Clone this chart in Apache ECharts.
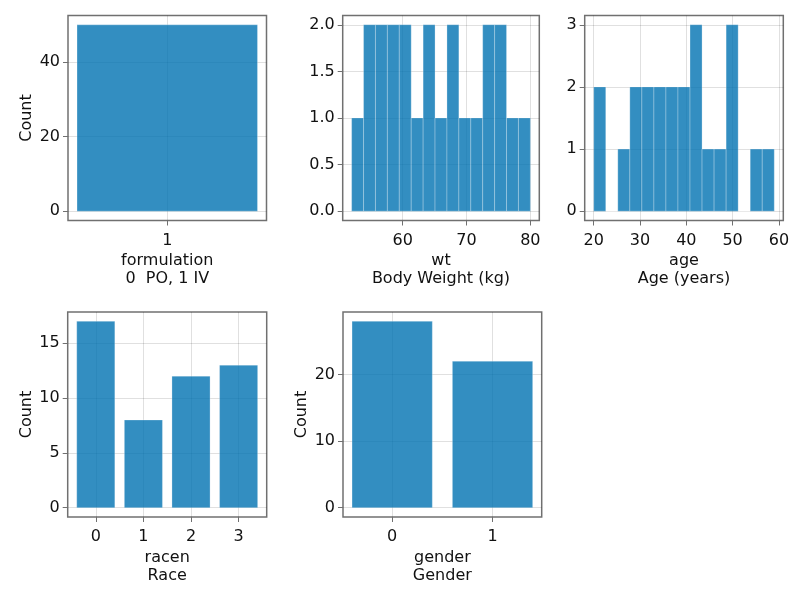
<!DOCTYPE html>
<html>
<head>
<meta charset="utf-8">
<script src="https://cdn.jsdelivr.net/npm/echarts@6.0.0/dist/echarts.min.js"></script>
<style>
html,body{margin:0;padding:0;background:#fff;}
#chart{width:800px;height:600px;}
</style>
</head>
<body>
<div id="chart"></div>
<script>
// ---------- data ----------
// formulation (categorical)
const formulationCats = [1];
const formulationCounts = [50];
// wt histogram: 15 bins from 52 to 80
const wtBinRange = [52, 80];
const wtCounts = [1, 2, 2, 2, 2, 1, 2, 1, 2, 1, 1, 2, 2, 1, 1];
// age histogram: 15 bins from 20 to 59
const ageBinRange = [20, 59];
const ageCounts = [2, 0, 1, 2, 2, 2, 2, 2, 3, 1, 1, 3, 0, 1, 1];
// racen (categorical)
const raceCats = [0, 1, 2, 3];
const raceCounts = [17, 8, 12, 13];
// gender (categorical)
const genderCats = [0, 1];
const genderCounts = [28, 22];

// tick values
const formulationXTicks = [1];
const formulationYTicks = [0, 20, 40];
const wtXTicks = [60, 70, 80];
const wtYTicks = [0, 0.5, 1, 1.5, 2];
const ageXTicks = [20, 30, 40, 50, 60];
const ageYTicks = [0, 1, 2, 3];
const raceXTicks = [0, 1, 2, 3];
const raceYTicks = [0, 5, 10, 15];
const genderXTicks = [0, 1];
const genderYTicks = [0, 10, 20];

// labels
const xNames = ['formulation\n0  PO, 1 IV', 'wt\nBody Weight (kg)', 'age\nAge (years)', 'racen\nRace', 'gender\nGender'];
const yName = 'Count';

// ---------- build ----------
const BAR_W = 0.8;
function catRects(cats, counts) {
  return cats.map((c, i) => [c - BAR_W / 2, c + BAR_W / 2, counts[i]]);
}
function histRects(range, counts) {
  const n = counts.length;
  const w = (range[1] - range[0]) / n;
  return counts.map((v, i) => [range[0] + i * w, range[0] + (i + 1) * w, v]);
}
const panels = [
  { rects: catRects(formulationCats, formulationCounts), xt: formulationXTicks, yt: formulationYTicks, yfmt: v => String(v), ylab: true },
  { rects: histRects(wtBinRange, wtCounts), xt: wtXTicks, yt: wtYTicks, yfmt: v => Number(v).toFixed(1), ylab: false },
  { rects: histRects(ageBinRange, ageCounts), xt: ageXTicks, yt: ageYTicks, yfmt: v => String(v), ylab: false },
  { rects: catRects(raceCats, raceCounts), xt: raceXTicks, yt: raceYTicks, yfmt: v => String(v), ylab: true },
  { rects: catRects(genderCats, genderCounts), xt: genderXTicks, yt: genderYTicks, yfmt: v => String(v), ylab: true }
];
const gridPos = [
  { left: 68, top: 15.5, width: 198.5, height: 205 },
  { left: 342.7, top: 15.5, width: 196.6, height: 205 },
  { left: 584.7, top: 15.5, width: 198.6, height: 205 },
  { left: 67.7, top: 312, width: 199, height: 205 },
  { left: 343, top: 312, width: 198.7, height: 205 }
];

const FONT = 'DejaVu Sans';
const FS = 16;
const TXT = '#111111';
const FRAME = '#707070';
const GRIDC = 'rgba(0,0,0,0.12)';

const grids = [], xAxes = [], yAxes = [], series = [];
panels.forEach((p, i) => {
  const x0 = Math.min(...p.rects.map(r => r[0]));
  const x1 = Math.max(...p.rects.map(r => r[1]));
  const ymax = Math.max(...p.rects.map(r => r[2]));
  const xpad = (x1 - x0) * 0.05, ypad = ymax * 0.05;
  grids.push(Object.assign({ show: true, borderColor: FRAME, borderWidth: 1.5, backgroundColor: 'transparent', containLabel: false }, gridPos[i]));
  xAxes.push({
    type: 'value', gridIndex: i, min: x0 - xpad, max: x1 + xpad,
    axisLine: { show: false, onZero: false },
    axisTick: { show: true, length: 5, lineStyle: { color: FRAME, width: 1 }, customValues: p.xt },
    axisLabel: { customValues: p.xt, margin: 12, fontFamily: FONT, fontSize: FS, color: TXT, formatter: v => String(v) },
    splitLine: { show: true, lineStyle: { color: GRIDC, width: 1 } },
    name: xNames[i], nameLocation: 'middle', nameGap: 31.5,
    nameTextStyle: { fontFamily: FONT, fontSize: FS, color: TXT, lineHeight: 18, verticalAlign: 'top' }
  });
  yAxes.push({
    type: 'value', gridIndex: i, min: -ypad, max: ymax + ypad,
    axisLine: { show: false, onZero: false },
    axisTick: { show: true, length: 5, lineStyle: { color: FRAME, width: 1 }, customValues: p.yt },
    axisLabel: { customValues: p.yt, margin: 8, fontFamily: FONT, fontSize: FS, color: TXT, formatter: p.yfmt },
    splitLine: { show: true, lineStyle: { color: GRIDC, width: 1 } },
    name: p.ylab ? yName : '', nameLocation: 'middle', nameGap: 33, nameRotate: 90,
    nameTextStyle: { fontFamily: FONT, fontSize: FS, color: TXT }
  });
  series.push({
    type: 'custom', xAxisIndex: i, yAxisIndex: i,
    data: p.rects,
    encode: { x: [0, 1], y: 2 },
    renderItem: function (params, api) {
      const a = api.coord([api.value(0), api.value(2)]);
      const b = api.coord([api.value(1), 0]);
      return {
        type: 'rect',
        shape: { x: a[0], y: a[1], width: b[0] - a[0], height: b[1] - a[1] },
        style: { fill: 'rgba(0,114,178,0.8)', stroke: 'rgba(255,255,255,0.25)', lineWidth: 1 }
      };
    }
  });
});

const chart = echarts.init(document.getElementById('chart'), null, { renderer: 'canvas' });
chart.setOption({
  animation: false,
  backgroundColor: '#ffffff',
  grid: grids, xAxis: xAxes, yAxis: yAxes, series: series
});
</script>
</body>
</html>
